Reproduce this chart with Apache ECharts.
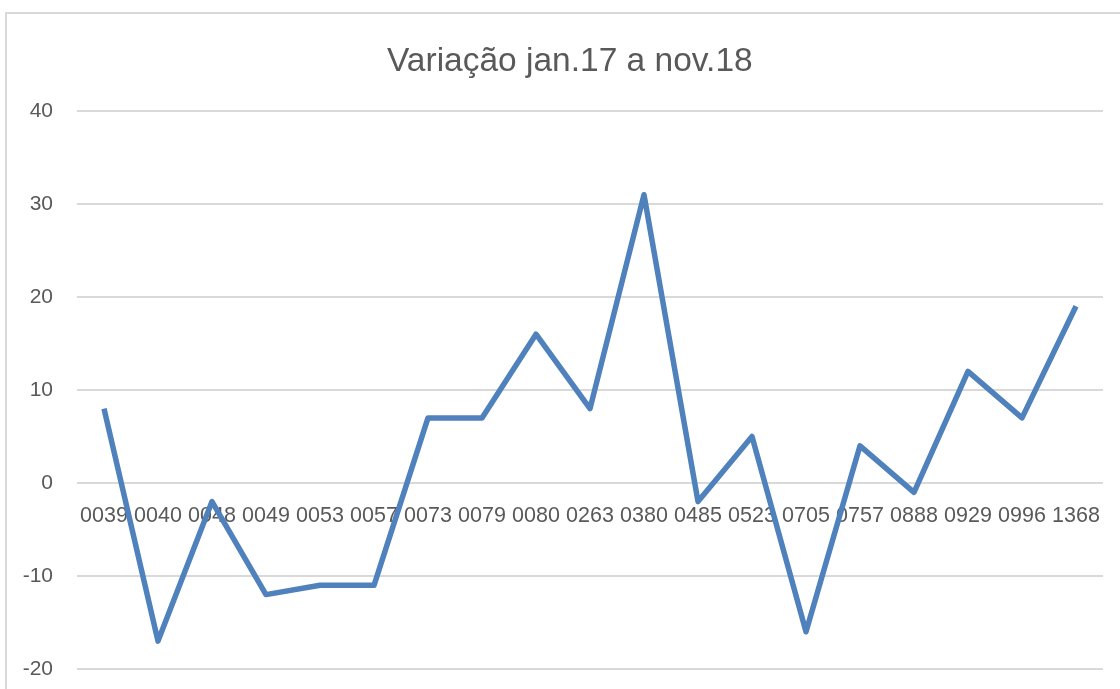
<!DOCTYPE html>
<html><head><meta charset="utf-8">
<script src="https://cdn.jsdelivr.net/npm/echarts@6/dist/echarts.min.js"></script>
<style>html,body{margin:0;padding:0;background:#fff}#c{width:1120px;height:689px}</style>
</head><body><div id="c"></div>
<script>
const categories = ['0039','0040','0048','0049','0053','0057','0073','0079','0080','0263','0380','0485','0523','0705','0757','0888','0929','0996','1368'];
const values = [8,-17,-2,-12,-11,-11,7,7,16,8,31,-2,5,-16,4,-1,12,7,19];
const titleText = 'Variação jan.17 a nov.18';
const yMin = -20, yMax = 40, yStep = 10;

const W = 1120, H = 689, gTop = 111, gBottom = 20;
const gridH = H - gTop - gBottom;
const zeroOffset = gridH * (0 - yMin) / (yMax - yMin);

const chart = echarts.init(document.getElementById('c'), null, {renderer:'canvas'});
chart.setOption({
  animation:false,
  backgroundColor:'#fff',
  graphic:[{type:'rect',shape:{x:6,y:13,width:1200,height:800},style:{fill:'none',stroke:'#d9d9d9',lineWidth:2},silent:true}],
  title:{text:titleText,left:382,top:40,textStyle:{fontFamily:'Liberation Sans',fontSize:33.5,fontWeight:'normal',color:'#595959'}},
  grid:{left:77,right:17,top:gTop,bottom:gBottom,containLabel:false,outerBoundsMode:'none'},
  xAxis:{type:'category',data:categories,boundaryGap:true,position:'bottom',offset:-zeroOffset,
    axisLine:{show:false,onZero:false},axisTick:{show:false},
    axisLabel:{interval:0,margin:22,color:'#595959',fontFamily:'Liberation Sans',fontSize:21.5}},
  yAxis:{type:'value',min:yMin,max:yMax,interval:yStep,
    axisLine:{show:false},axisTick:{show:false},
    axisLabel:{margin:24,color:'#595959',fontFamily:'Liberation Sans',fontSize:21},
    splitLine:{lineStyle:{color:'#d9d9d9',width:2}}},
  series:[{type:'line',data:values,symbol:'none',lineStyle:{color:'#4f81bd',width:5.5,join:'round'},itemStyle:{color:'#4f81bd'}}]
});
</script></body></html>
